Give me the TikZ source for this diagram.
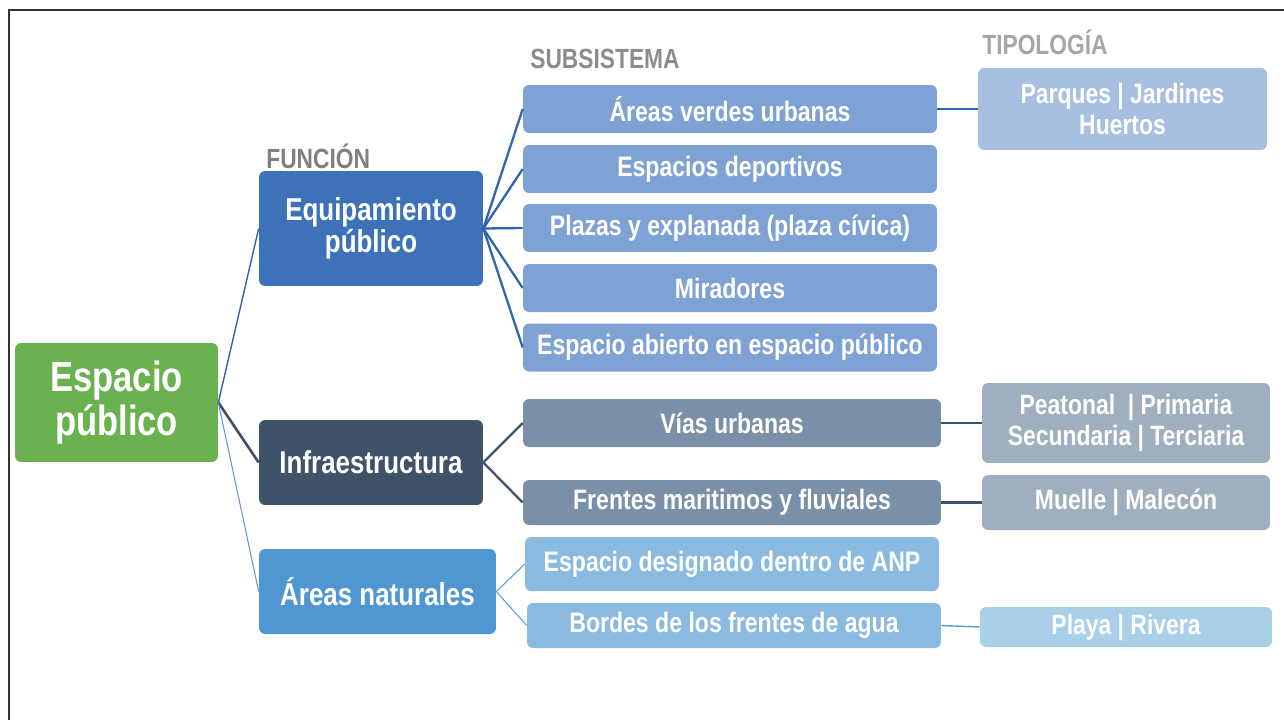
\documentclass[tikz,border=0pt]{standalone}
\usepackage{fontspec}
\setmainfont{Liberation Sans}[FakeStretch=0.82]
\usetikzlibrary{positioning}

\definecolor{verde}{HTML}{6AB150}
\definecolor{equipo}{HTML}{3D72B9}
\definecolor{infra}{HTML}{3E5369}
\definecolor{natur}{HTML}{5097D1}
\definecolor{subsA}{HTML}{7FA2D5}
\definecolor{subsB}{HTML}{7A8FA8}
\definecolor{subsC}{HTML}{8ABADF}
\definecolor{tipoA}{HTML}{A7BFE1}
\definecolor{tipoB}{HTML}{A0AFC0}
\definecolor{tipoC}{HTML}{AACFE8}
\definecolor{lineaA}{HTML}{2F64AE}
\definecolor{lineaC}{HTML}{5B9BD5}

\tikzset{
  caja/.style={rounded corners=3.5pt, text=white, font=\bfseries, align=center, inner sep=2pt},
  raiz/.style={caja, fill=verde, minimum width=4.06cm, minimum height=2.38cm, font=\bfseries\fontsize{24}{25.5}\selectfont},
  funcion/.style={caja, minimum width=4.48cm, minimum height=1.70cm, font=\bfseries\fontsize{18}{18.2}\selectfont},
  subsis/.style={caja, minimum width=8.28cm, minimum height=0.96cm, font=\bfseries\fontsize{16}{17}\selectfont},
  tipo/.style={caja, minimum width=5.76cm, minimum height=1.10cm, font=\bfseries\fontsize{15.9}{17.8}\selectfont},
  titulo/.style={anchor=west, inner sep=0pt, font=\bfseries\fontsize{15.8}{17}\selectfont}
}

\begin{document}
\begin{tikzpicture}[x=0.02cm,y=-0.02cm]
  \useasboundingbox (0,0) rectangle (1284,720);
  \draw[black!80, line width=0.6pt] (9,720) -- (9,10) -- (1284,10);

  % encabezados
  \node[titulo, text=black!50] (hfun) at (266,156) {FUNCIÓN};
  \node[titulo, text=black!45] (hsub) at (530,59) {SUBSISTEMA};
  \node[titulo, text=black!35] (htip) at (982,42) {TIPOLOGÍA};

  % espacio publico y funciones
  \node[raiz] (ep) at (116.5,402.5) {Espacio\\público};
  \node[funcion, fill=equipo, minimum height=2.30cm] (eq) at (371,228.5) {Equipamiento\\público};
  \node[funcion, fill=infra] (inf) at (371,462.5) {Infraestructura};
  \node[funcion, fill=natur, minimum width=4.74cm] (an) at (377.5,591.5) {Áreas naturales};

  % subsistemas
  \node[subsis, fill=subsA] (s1) at (730,109) {Áreas verdes urbanas};
  \node[subsis, fill=subsA] (s2) at (730,169) {Espacios deportivos};
  \node[subsis, fill=subsA] (s3) at (730,228) {Plazas y explanada (plaza cívica)};
  \node[subsis, fill=subsA] (s4) at (730,288) {Miradores};
  \node[subsis, fill=subsA] (s5) at (730,347.5) {Espacio abierto en espacio público};
  \node[subsis, fill=subsB, minimum width=8.36cm] (s6) at (732,423) {Vías urbanas};
  \node[subsis, fill=subsB, minimum width=8.36cm, minimum height=0.90cm] (s7) at (732,502.5) {Frentes maritimos y fluviales};
  \node[subsis, fill=subsC, minimum height=1.08cm] (s8) at (732,564) {Espacio designado dentro de ANP};
  \node[subsis, fill=subsC, minimum height=0.90cm] (s9) at (734,625.5) {Bordes de los frentes de agua};

  % tipologias
  \node[tipo, fill=tipoA, minimum width=5.78cm, minimum height=1.64cm] (t1) at (1122.5,109) {Parques | Jardines\\Huertos};
  \node[tipo, fill=tipoB, minimum height=1.60cm] (t2) at (1126,423) {Peatonal~~| Primaria\\Secundaria | Terciaria};
  \node[tipo, fill=tipoB] (t3) at (1126,502.5) {Muelle | Malecón};
  \node[tipo, fill=tipoC, minimum width=5.84cm, minimum height=0.80cm] (t4) at (1126,627) {Playa | Rivera};

  % conectores
  \path[draw=lineaA, line width=0.8pt] (ep.east) edge (eq.west);
  \path[draw=infra, line width=1.5pt] (ep.east) edge (inf.west);
  \path[draw=lineaC, line width=0.6pt] (ep.east) edge (an.west);

  \foreach \s in {s1,s2,s3,s4,s5}
    \draw[lineaA, line width=1.3pt] (eq.east) -- (\s.west);
  \path[draw=infra, line width=1.3pt]
    (inf.east) edge (s6.west)
               edge (s7.west);
  \path[draw=lineaC, line width=0.6pt]
    (an.east) edge (s8.west)
              edge (s9.west);

  \draw[lineaA, line width=1.3pt] (s1.east) -- (t1.west);
  \draw[infra, line width=1.3pt] (s6.east) -- (t2.west);
  \draw[infra, line width=1.3pt] (s7.east) -- (t3.west);
  \draw[lineaC, line width=0.8pt] (s9.east) -- (t4.west);
\end{tikzpicture}
\end{document}
